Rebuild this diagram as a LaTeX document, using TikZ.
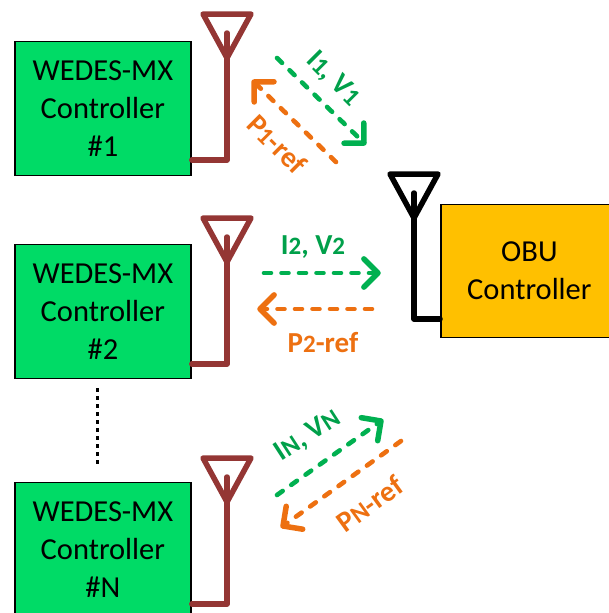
\documentclass[tikz,border=0pt]{standalone}
\usepackage{fontspec}
\setmainfont{Carlito}
\usepackage{tikz}
\usetikzlibrary{calc}
\definecolor{ctrlgreen}{HTML}{00DB66}
\definecolor{linkgreen}{HTML}{00B050}
\definecolor{obuyellow}{HTML}{FFC000}
\definecolor{antbrown}{HTML}{943634}
\definecolor{reforange}{HTML}{ED7011}
\definecolor{labgreen}{HTML}{00A04A}
\tikzset{
  ctrl/.style={draw=black, line width=1.8pt, fill=ctrlgreen, minimum width=176pt, minimum height=134pt,
    anchor=north west, inner sep=0pt, align=center, font=\fontsize{30.5}{38}\selectfont},
  ant/.style={line width=5.5pt, line join=round, line cap=round},
  link/.style={line width=4.6pt, line cap=round, dash pattern=on 7pt off 10.5pt},
  linkhead/.style={line width=5.5pt, line cap=round, line join=round},
  lab/.style={inner sep=0pt, font=\fontsize{29}{30}\selectfont\bfseries},
}
\newcommand{\lowdig}[1]{{\fontsize{25}{26}\selectfont #1}}
\begin{document}
\begin{tikzpicture}[x=1pt,y=-1pt]
  \useasboundingbox (0,0) rectangle (608,613);
  % controllers
  \node[ctrl] (c1) at (14,40.5) {WEDES-MX\\Controller\\\#1};
  \node[ctrl] (c2) at (14,243.5) {WEDES-MX\\Controller\\\#2};
  \node[ctrl] (c3) at (14,481.5) {WEDES-MX\\Controller\\\#N};
  \node[ctrl, fill=obuyellow, minimum width=177pt, minimum height=133pt] (obu) at (440,203.5) {OBU\\Controller};
  % antennas
  \foreach \name/\ytop in {c1/14, c2/218, c3/458} {
    \coordinate (\name l) at (203,\ytop);
    \coordinate (\name r) at (251,\ytop);
    \coordinate (\name a) at (227,\ytop+44);
    \coordinate (\name s) at (227,\ytop+19);
    \coordinate (\name b) at (227,\ytop+146);
    \draw[ant, antbrown] (\name l) -- (\name r) -- (\name a) -- cycle;
    \draw[ant, antbrown] (\name s) -- (\name b) -- (\name b -| \name.east);
  }
  \coordinate (ol) at (390,174);
  \coordinate (or) at (438,174);
  \coordinate (oa) at (414,218);
  \coordinate (os) at (414,193);
  \coordinate (ob) at (414,319);
  \draw[ant, black] (ol) -- (or) -- (oa) -- cycle;
  \draw[ant, black] (os) -- (ob) -- (ob -| obu.west);
  % dots between controllers
  \coordinate (d1) at (97,388);
  \coordinate (d2) at (97,465);
  \draw[black, line width=3pt, dash pattern=on 4pt off 4pt] (d1) -- (d2);
  % links
  \coordinate (g1s) at (277,58);
  \coordinate (g1e) at (364,143);
  \coordinate (o1s) at (336,162);
  \coordinate (o1e) at (254,82);
  \coordinate (g2s) at (264,273);
  \coordinate (g2e) at (378,273);
  \coordinate (o2s) at (372,309);
  \coordinate (o2e) at (260,309);
  \coordinate (g3s) at (277,495);
  \coordinate (g3e) at (381,421);
  \coordinate (o3s) at (401,441);
  \coordinate (o3e) at (283,526);
  \foreach \from/\to/\col in {g1s/g1e/linkgreen, o1s/o1e/reforange, g2s/g2e/linkgreen,
      o2s/o2e/reforange, g3s/g3e/linkgreen, o3s/o3e/reforange} {
    \draw[link, \col] (\from) -- (\to);
    \draw[linkhead, \col] ($(\to)!20pt!45:(\from)$) -- (\to) -- ($(\to)!20pt!-45:(\from)$);
  }
  % labels
  \node[lab, labgreen, rotate=-45] (l1) at (333,79) {I\lowdig{1}, V\lowdig{1}};
  \node[lab, reforange, rotate=-45] (r1) at (277,144) {P\lowdig{1}-ref};
  \node[lab, labgreen] (l2) at (313,247) {I\lowdig{2}, V\lowdig{2}};
  \node[lab, reforange] (r2) at (323,343) {P\lowdig{2}-ref};
  \node[lab, labgreen, rotate=33] (l3) at (308,436) {I\lowdig{N}, V\lowdig{N}};
  \node[lab, reforange, rotate=36] (r3) at (370,504) {P\lowdig{N}-ref};
\end{tikzpicture}
\end{document}
